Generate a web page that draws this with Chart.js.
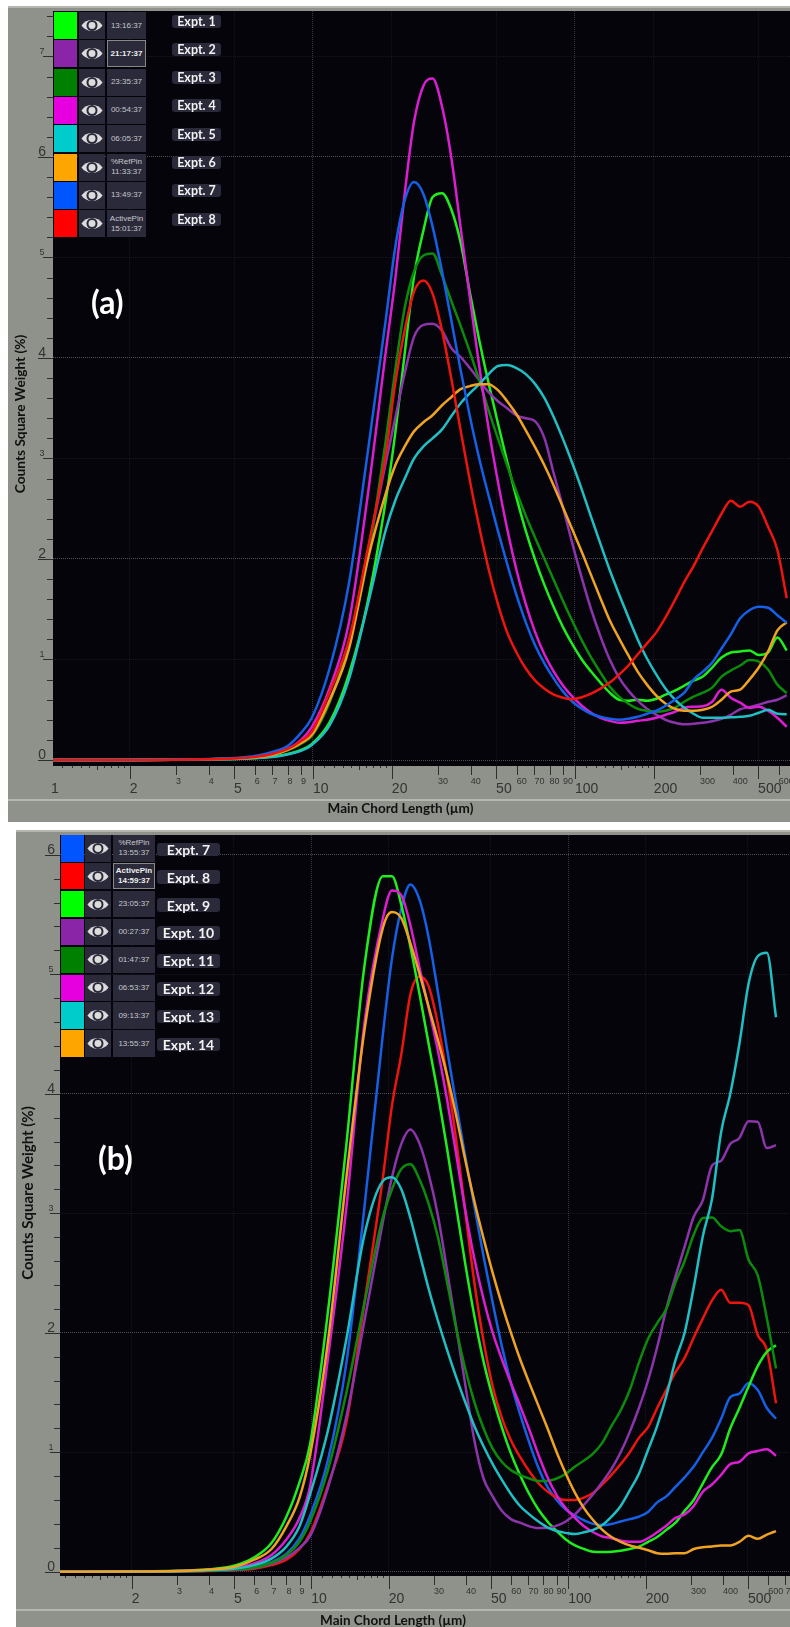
<!DOCTYPE html>
<html><head><meta charset="utf-8">
<script src="https://cdn.jsdelivr.net/npm/chart.js@4"></script>
<style>
html,body{margin:0;padding:0;width:790px;height:1627px;overflow:hidden;background:#fff;}
.panel{position:absolute;background:#8e928a;border-top:2px solid #b4b7b0;box-sizing:border-box;overflow:hidden;}
canvas{position:absolute;display:block;}
.sep{position:absolute;height:2px;background:#b4b7b0;right:0;}
.cell{position:absolute;background:#2a2a3a;display:flex;align-items:center;justify-content:center;box-sizing:border-box;
 font:8px/10px "Liberation Sans",sans-serif;color:#c8c8cc;text-align:center;white-space:pre;}
.sel{font-weight:bold;color:#eee;border:1px solid #888;}
.tag{position:absolute;background:#2a2a3a;border-radius:3px;color:#f2f2f2;font-weight:700;font-family:Lato,sans-serif;display:flex;align-items:center;justify-content:center;white-space:pre;}
.big{position:absolute;color:#fff;font:700 32px Lato,sans-serif;}
</style></head><body>
<div id="root"></div>
<script>
// Chord length bins (µm), shared by every curve
const xBins=[1.02,2,3,4,5,6,7,8,9,9.9,11.6,13.7,16.1,19.0,20.6,22.4,24.3,26.4,28.6,31.1,33.7,36.6,39.7,43.1,46.8,50.8,55.1,59.8,64.9,70.5,76.5,83.0,90.1,97.8,106.2,115.2,125.1,135.7,147.3,159.9,173.5,188.3,204.4,221.8,240.7,261.3,283.6,307.7,334.0,362.5,393.4,427.0,463.4,502.9,545.8,592.4,643.0];

// Panel (a)
const aExpt1=[0,0,.002,.005,.01,.02,.035,.06,.1,.16,.38,.85,1.55,2.6,3.25,4.05,4.81,5.27,5.6,5.64,5.48,5.15,4.65,4.18,3.75,3.35,2.97,2.61,2.28,1.99,1.74,1.52,1.32,1.15,1.0,.88,.77,.67,.6,.59,.6,.59,.61,.65,.69,.74,.79,.83,.92,1.02,1.07,1.08,1.09,1.045,1.07,1.22,1.09];
const aExpt2=[0,.001,.003,.007,.014,.028,.055,.1,.18,.26,.6,1.14,2.05,2.97,3.4,3.85,4.21,4.33,4.34,4.27,4.1,4.01,3.9,3.78,3.66,3.57,3.5,3.43,3.4,3.37,3.2,2.85,2.51,2.15,1.81,1.5,1.23,1.0,.82,.69,.59,.51,.45,.4,.37,.355,.36,.37,.385,.41,.45,.505,.525,.55,.58,.6,.645];
const aExpt3=[0,.001,.003,.007,.014,.026,.05,.095,.16,.24,.58,1.16,1.97,3.2,3.88,4.5,4.86,5.02,5.04,4.82,4.57,4.32,4.06,3.78,3.48,3.2,2.93,2.67,2.43,2.21,2.0,1.79,1.58,1.38,1.19,1.02,.87,.73,.63,.56,.51,.49,.48,.49,.52,.58,.63,.67,.72,.83,.89,.94,.995,.98,.9,.75,.665];
const aExpt4=[0,.001,.003,.008,.016,.03,.06,.11,.2,.33,.72,1.36,2.59,4.08,4.78,5.64,6.35,6.71,6.78,6.5,6.0,5.3,4.6,3.92,3.3,2.77,2.3,1.89,1.55,1.27,1.05,.88,.74,.63,.54,.47,.42,.39,.37,.375,.39,.4,.42,.45,.48,.52,.53,.535,.58,.7,.62,.57,.52,.53,.49,.42,.33];
const aExpt5=[0,0,.002,.005,.009,.018,.03,.055,.09,.15,.35,.8,1.52,2.3,2.58,2.8,3.0,3.12,3.2,3.29,3.42,3.55,3.65,3.74,3.84,3.92,3.93,3.9,3.84,3.74,3.6,3.41,3.19,2.95,2.69,2.42,2.15,1.89,1.65,1.42,1.2,1.01,.85,.71,.6,.52,.46,.42,.42,.42,.425,.43,.44,.47,.5,.46,.455];
const aExpt6=[0,.001,.003,.007,.014,.026,.05,.1,.17,.25,.6,1.1,1.97,2.66,2.93,3.12,3.27,3.36,3.43,3.53,3.61,3.69,3.72,3.74,3.74,3.68,3.57,3.44,3.28,3.11,2.93,2.73,2.51,2.29,2.07,1.84,1.61,1.39,1.21,1.04,.88,.75,.64,.56,.51,.49,.49,.5,.53,.6,.68,.7,.8,.92,1.08,1.29,1.37];
const aExpt7=[0,.001,.004,.01,.02,.04,.08,.14,.27,.42,.92,1.75,3.02,4.4,5.1,5.57,5.75,5.63,5.31,4.86,4.38,3.88,3.42,3.0,2.63,2.28,1.95,1.64,1.37,1.14,.96,.81,.68,.58,.51,.46,.43,.41,.4,.41,.43,.46,.49,.54,.6,.67,.8,.88,.97,1.11,1.25,1.41,1.49,1.525,1.515,1.44,1.366];
const aExpt8=[0,.001,.003,.008,.016,.03,.06,.11,.19,.28,.68,1.19,2.07,3.06,3.75,4.28,4.66,4.77,4.64,4.27,3.8,3.28,2.78,2.32,1.9,1.55,1.27,1.07,.91,.79,.71,.65,.62,.605,.625,.66,.71,.77,.85,.94,1.05,1.16,1.27,1.42,1.59,1.77,1.93,2.11,2.28,2.45,2.58,2.52,2.57,2.52,2.32,2.09,1.61];

// Panel (b)
const bExpt7=[0,.001,.003,.008,.018,.035,.08,.15,.28,.47,.93,1.75,3.05,4.5,5.13,5.55,5.75,5.62,5.31,4.85,4.38,3.92,3.48,3.06,2.64,2.25,1.89,1.58,1.32,1.08,.87,.71,.6,.52,.47,.43,.4,.39,.4,.42,.44,.46,.5,.58,.63,.71,.79,.88,1.0,1.12,1.28,1.46,1.49,1.58,1.52,1.37,1.28];
const bExpt8=[0,.001,.002,.006,.012,.025,.055,.1,.19,.32,.72,1.25,2.25,3.3,3.9,4.33,4.83,4.98,4.9,4.58,4.15,3.62,3.02,2.42,1.93,1.55,1.29,1.1,.96,.84,.74,.67,.62,.6,.6,.62,.66,.73,.81,.9,1.0,1.12,1.21,1.37,1.52,1.67,1.79,1.96,2.12,2.27,2.36,2.25,2.25,2.23,1.98,1.855,1.41];
const bExpt9=[0,.002,.007,.02,.05,.12,.24,.46,.75,1.07,2.17,3.58,5.07,5.82,5.82,5.58,5.23,4.83,4.42,4.0,3.55,3.06,2.58,2.14,1.76,1.46,1.21,.99,.81,.65,.52,.42,.34,.27,.22,.19,.167,.165,.167,.175,.19,.21,.25,.29,.35,.41,.51,.6,.74,.875,.98,1.2,1.37,1.55,1.72,1.84,1.895];
const bExpt10=[0,.001,.003,.007,.014,.03,.065,.12,.2,.3,.7,1.3,2.1,2.93,3.3,3.58,3.7,3.58,3.33,2.98,2.53,2.05,1.57,1.1,.78,.63,.51,.44,.41,.38,.365,.365,.385,.42,.48,.56,.65,.75,.86,1.0,1.17,1.37,1.6,1.88,2.2,2.47,2.72,2.97,3.11,3.4,3.44,3.58,3.63,3.77,3.765,3.545,3.57];
const bExpt11=[0,.001,.003,.008,.018,.035,.075,.14,.25,.42,.85,1.5,2.25,2.97,3.2,3.37,3.41,3.28,3.08,2.8,2.43,2.04,1.7,1.42,1.2,1.03,.92,.85,.81,.78,.76,.76,.78,.82,.88,.93,.99,1.08,1.22,1.35,1.52,1.75,1.95,2.08,2.2,2.42,2.6,2.82,2.96,2.965,2.89,2.85,2.86,2.61,2.48,2.12,1.7];
const bExpt12=[0,.002,.005,.015,.03,.07,.14,.27,.45,.72,1.78,3.05,4.59,5.47,5.7,5.66,5.41,5.05,4.72,4.36,3.96,3.5,3.03,2.62,2.28,2.0,1.78,1.58,1.39,1.19,.98,.79,.64,.53,.45,.38,.33,.295,.28,.26,.25,.25,.28,.33,.385,.45,.48,.55,.67,.73,.81,.9,.92,.99,1.01,1.025,.97];
const bExpt13=[0,.001,.004,.012,.025,.055,.11,.21,.38,.65,1.18,1.95,2.82,3.27,3.3,3.2,2.96,2.66,2.37,2.1,1.86,1.63,1.42,1.22,1.05,.9,.77,.65,.55,.48,.42,.37,.34,.325,.315,.33,.35,.39,.46,.55,.68,.82,1.02,1.22,1.47,1.77,2.0,2.38,2.81,3.12,3.68,4.0,4.42,4.92,5.15,5.18,4.64];
const bExpt14=[0,.002,.006,.018,.04,.1,.19,.38,.62,.98,1.92,3.3,4.53,5.39,5.52,5.47,5.26,5.0,4.73,4.45,4.16,3.82,3.45,3.1,2.79,2.5,2.24,2.0,1.78,1.58,1.39,1.2,1.0,.82,.66,.53,.43,.35,.29,.25,.22,.2,.18,.155,.15,.155,.155,.19,.205,.21,.22,.22,.25,.3,.275,.31,.34];

// Axis ticks
const xTicksA=[1,2,3,4,5,6,7,8,9,10,20,30,40,50,60,70,80,90,100,200,300,400,500,600];
const xTicksB=[2,3,4,5,6,7,8,9,10,20,30,40,50,60,70,80,90,100,200,300,400,500,600,700];
const xBigLabels=[1,2,5,10,20,50,100,200,500];
const xLongMarks=[2,5,10,20,50,100,200,500];
const xMidMarks=[3,4,6,7,8,9,30,40,60,70,80,90,300,400,600,700];
const xShortMarks=[1.1,1.2,1.3,1.4,1.5,1.6,1.7,1.8,1.9,11,12,13,14,15,16,17,18,19,110,120,130,140,150,160,170,180,190];
const yTicksA=[0,1,2,3,4,5,6,7];
const yTicksB=[0,1,2,3,4,5,6];
const yBigLabels=[0,2,4,6];

// Legends
const legendA=[["#00ff00","13:16:37","Expt. 1",0],["#8a25a8","21:17:37","Expt. 2",1],["#008000","23:35:37","Expt. 3",0],["#e600e0","00:54:37","Expt. 4",0],["#00cccc","06:05:37","Expt. 5",0],["#ffa500","%RefPin\n11:33:37","Expt. 6",0],["#0055ff","13:49:37","Expt. 7",0],["#ff0000","ActivePin\n15:01:37","Expt. 8",0]];
const legendB=[["#0055ff","%RefPin\n13:55:37","Expt. 7",0],["#ff0000","ActivePin\n14:59:37","Expt. 8",1],["#00ff00","23:05:37","Expt. 9",0],["#8a25a8","00:27:37","Expt. 10",0],["#008000","01:47:37","Expt. 11",0],["#e600e0","06:53:37","Expt. 12",0],["#00cccc","09:13:37","Expt. 13",0],["#ffa500","13:55:37","Expt. 14",0]];

const LINE={green:"#1eee1e",purple:"#8c35ab",dark:"#0b8a0b",magenta:"#dc1ed2",cyan:"#20bfc4",orange:"#f0a322",blue:"#1560e6",red:"#ee1410"};
const seriesA=[["Expt. 1",aExpt1,LINE.green],["Expt. 2",aExpt2,LINE.purple],["Expt. 3",aExpt3,LINE.dark],["Expt. 4",aExpt4,LINE.magenta],["Expt. 5",aExpt5,LINE.cyan],["Expt. 6",aExpt6,LINE.orange],["Expt. 7",aExpt7,LINE.blue],["Expt. 8",aExpt8,LINE.red]];
const seriesB=[["Expt. 7",bExpt7,LINE.blue],["Expt. 8",bExpt8,LINE.red],["Expt. 9",bExpt9,LINE.green],["Expt. 10",bExpt10,LINE.purple],["Expt. 11",bExpt11,LINE.dark],["Expt. 12",bExpt12,LINE.magenta],["Expt. 13",bExpt13,LINE.cyan],["Expt. 14",bExpt14,LINE.orange]];

const INK="#2e2e2e";
function makePanel(c){
  const root=document.getElementById("root");
  const p=document.createElement("div");p.className="panel";
  p.style.cssText=`left:${c.left}px;top:${c.top}px;width:${790-c.left}px;height:${c.bottom-c.top}px`;
  root.appendChild(p);
  const s=document.createElement("div");s.className="sep";
  s.style.cssText=`left:${c.left}px;top:${c.sepY}px`;root.appendChild(s);
  const cv=document.createElement("canvas");
  cv.width=790;cv.height=c.canvasH;cv.style.cssText=`left:0;top:${c.canvasTop}px`;
  root.appendChild(cv);

  const frame={id:"frame",
    afterLayout(ch){
      const xs=ch.scales.x,ys=ch.scales.y;
      if(!xs._moved){xs._moved=true;
        const dx=xs.drawTitle;xs.drawTitle=function(){const l=this.left,r=this.right;this.left+=c.titleDx;this.right+=c.titleDx;dx.apply(this,arguments);this.left=l;this.right=r;};
        const dy=ys.drawTitle;ys.drawTitle=function(){const t=this.top,b=this.bottom;this.top+=c.titleDy;this.bottom+=c.titleDy;dy.apply(this,arguments);this.top=t;this.bottom=b;};
      }
    },
    beforeDraw(ch){
      const a=ch.chartArea,g=ch.ctx;
      g.save();g.fillStyle="#04040a";g.fillRect(c.plotLeft,a.top,790-c.plotLeft,a.bottom-a.top);g.restore();
    },
    afterDraw(ch){
      const a=ch.chartArea,g=ch.ctx,xs=ch.scales.x,ys=ch.scales.y;
      g.save();g.strokeStyle=INK;g.lineWidth=1;g.beginPath();
      const vt=(v,l)=>{const x=Math.round(xs.getPixelForValue(v))+.5;if(x<c.plotLeft||x>790)return;g.moveTo(x,a.bottom);g.lineTo(x,a.bottom+l);};
      xLongMarks.forEach(v=>vt(v,13));xMidMarks.forEach(v=>vt(v,9));
      xShortMarks.forEach(v=>vt(v,(v===1.5||v===15||v===150)?4:2));
      const ht=(v,l)=>{const y=Math.round(ys.getPixelForValue(v))+.5;g.moveTo(c.plotLeft,y);g.lineTo(c.plotLeft-l,y);};
      for(let i=0;i*0.2<=c.yTop;i++){const v=+(i*0.2).toFixed(1);
        if(i%5===0){ht(v,(i%10===0)?15:10);}else{ht(v,6);}}
      g.stroke();g.restore();
    }};

  new Chart(cv,{type:"line",
    data:{datasets:c.series.map((s,i)=>({label:s[0],data:xBins.map((x,j)=>({x:x,y:s[1][j]})),borderColor:s[2],backgroundColor:s[2],borderWidth:2.5,pointRadius:0,cubicInterpolationMode:"monotone",order:20-i}))},
    plugins:[frame],
    options:{responsive:false,animation:false,devicePixelRatio:1,parsing:false,
      layout:{padding:{left:c.padLeft,top:c.plotTop,right:0,bottom:c.padBottom}},
      plugins:{legend:{display:false},tooltip:{enabled:false},title:{display:false}},
      scales:{
        x:{type:"logarithmic",min:c.xMin,max:c.xMax,position:"bottom",
          afterBuildTicks(a){a.ticks=c.xTicks.map(v=>({value:v}));},
          afterFit(a){a.height=c.axisH;a.paddingLeft=0;a.paddingRight=0;},
          grid:{drawTicks:false,lineWidth:1,
            color(t){const v=t.tick&&t.tick.value;if(v===10||v===100)return "rgba(255,255,255,.20)";if([2,5,20,50,200,500].includes(v))return "rgba(255,255,255,.07)";return "rgba(0,0,0,0)";}},
          border:{display:false,dash:[1,1]},
          ticks:{autoSkip:false,maxRotation:0,minRotation:0,align:"start",padding:11,color:"#333",
            font(t){const big=t.tick&&xBigLabels.includes(t.tick.value);return big?{family:"Liberation Sans",size:14,lineHeight:"24px"}:{family:"Liberation Sans",size:9,lineHeight:"10px"};},
            callback(v){return String(v);}},
          title:{display:true,text:"Main Chord Length (µm)",color:"#111",font:{family:"Lato",weight:"bold",size:c.xTitleSize},padding:{top:0,bottom:c.xTitlePad}}},
        y:{type:"linear",min:c.yMin,max:c.yMax,
          afterBuildTicks(a){a.ticks=c.yTicks.map(v=>({value:v}));},
          afterFit(a){a.width=c.axisW;a.paddingTop=0;a.paddingBottom=0;},
          grid:{drawTicks:false,lineWidth:1,
            color(t){const v=t.tick&&t.tick.value;return v%2===0?"rgba(255,255,255,.30)":"rgba(255,255,255,.08)";}},
          border:{display:false,dash:[1,1]},
          ticks:{autoSkip:false,crossAlign:"center",padding:c.yPad,labelOffset:-5,color:"#333",
            font(t){const big=t.tick&&yBigLabels.includes(t.tick.value);return big?{family:"Liberation Sans",size:14}:{family:"Liberation Sans",size:9};},
            callback(v){return String(v);}},
          title:{display:true,text:"Counts Square Weight (%)",color:"#111",font:{family:"Lato",weight:"bold",size:c.yTitleSize},padding:{top:c.yTitlePad,bottom:0}}}
      }}});

  const box=(cls,css,txt)=>{const d=document.createElement("div");d.className=cls;d.style.cssText=css;if(txt)d.textContent=txt;root.appendChild(d);return d;};
  c.legend.forEach((r,i)=>{
    const y=c.lg.top+i*c.lg.pitch;
    box("cell",`left:${c.lg.sw[0]}px;top:${y}px;width:${c.lg.sw[1]}px;height:${c.lg.h}px;background:${r[0]}`);
    const e=box("cell",`left:${c.lg.eye[0]}px;top:${y}px;width:${c.lg.eye[1]}px;height:${c.lg.h}px`);
    e.innerHTML='<svg width="22" height="15" viewBox="0 0 24 16"><path d="M0.5 8 C6 0 18 0 23.5 8 C18 16 6 16 0.5 8Z" fill="#dcdcdc"/><circle cx="12" cy="8" r="6" fill="#2a2a3a"/><circle cx="12" cy="8" r="3.8" fill="#dcdcdc"/></svg>';
    box("cell"+(r[3]?" sel":""),`left:${c.lg.tm[0]}px;top:${y}px;width:${c.lg.tm[1]}px;height:${c.lg.h}px`,r[1]);
    box("tag",`left:${c.lg.tag[0]}px;top:${c.lg.tagTop+i*c.lg.pitch}px;width:${c.lg.tag[1]}px;height:${c.lg.tagH}px;font-size:${c.lg.fs}px`,r[2]);
  });
  box("big",`left:${c.mark[0]}px;top:${c.mark[1]}px`,c.mark[2]);
}

makePanel({left:8,top:6,bottom:822,sepY:799,canvasTop:0,canvasH:826,series:seriesA,legend:legendA,
  plotLeft:53,plotTop:11,padLeft:8,padBottom:5,axisW:43,axisH:55,xMin:1,xMax:661.8,yMin:-0.0597,yMax:7.4527,yTop:7.4,
  xTicks:xTicksA,yTicks:yTicksA,titleDx:-20,titleDy:25.5,xTitleSize:13.5,yTitleSize:13.7,xTitlePad:4,yTitlePad:4,yPad:5,
  lg:{top:12,pitch:28.3,h:27,sw:[54,23],eye:[79,26],tm:[107,39],tag:[172,49],tagTop:14.5,tagH:13,fs:12.5},mark:[91,282,"(a)"]});
makePanel({left:16,top:830,bottom:1627,sepY:1609,canvasTop:826,canvasH:810,series:seriesB,legend:legendB,
  plotLeft:60,plotTop:9,padLeft:16,padBottom:5,axisW:44,axisH:55,xMin:1.0524,xMax:729,yMin:-0.036,yMax:6.165,yTop:6.1,
  xTicks:xTicksB,yTicks:yTicksB,titleDx:-32,titleDy:-12.5,xTitleSize:13.5,yTitleSize:15,xTitlePad:2,yTitlePad:3,yPad:5,
  lg:{top:835,pitch:27.9,h:26.5,sw:[61,23],eye:[85,26],tm:[113,42],tag:[157,63],tagTop:842.5,tagH:13.5,fs:14},mark:[98,1138,"(b)"]});
</script>
</body></html>
